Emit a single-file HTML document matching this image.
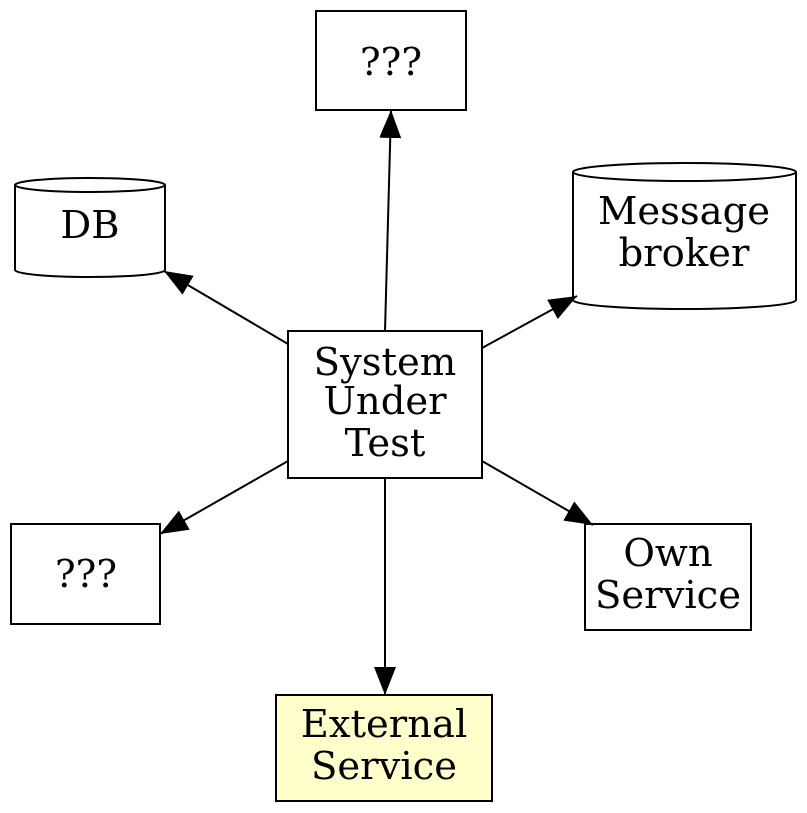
<!DOCTYPE html>
<html><head><meta charset="utf-8"><style>
html,body{margin:0;padding:0;background:#fff;}
svg{display:block;}
text{font-family:"DejaVu Serif","Liberation Serif",serif;font-size:38.5px;fill:#000;text-anchor:middle;}
</style></head><body>
<svg width="807" height="813" viewBox="0 0 807 813" xmlns="http://www.w3.org/2000/svg">
<defs>
<marker id="a" markerUnits="userSpaceOnUse" markerWidth="30" markerHeight="22" refX="28" refY="11" orient="auto">
<polygon points="0,0 28,11 0,22" fill="#000"/>
</marker>
</defs>
<g stroke="#000" stroke-width="2" fill="none">
<rect x="316" y="11" width="150" height="99" fill="#fff"/>
<path d="M15,185 L15,270 A75,7 0 0 0 165,270 L165,185 A75,7 0 0 0 15,185 A75,7 0 0 0 165,185" fill="#fff"/>
<path d="M573,172 L573,300 A111.5,9 0 0 0 796,300 L796,172 A111.5,9 0 0 0 573,172 A111.5,9 0 0 0 796,172" fill="#fff"/>
<rect x="288" y="331" width="194" height="147" fill="#fff"/>
<rect x="11" y="524" width="149" height="100" fill="#fff"/>
<rect x="585" y="524" width="166" height="106" fill="#fff"/>
<rect x="276" y="695" width="216" height="106" fill="#ffffcc"/>
<line x1="385" y1="331" x2="391" y2="110" marker-end="url(#a)"/>
<line x1="288" y1="344" x2="164" y2="271" marker-end="url(#a)"/>
<line x1="482" y1="348" x2="577" y2="296" marker-end="url(#a)"/>
<line x1="288" y1="461" x2="160" y2="534" marker-end="url(#a)"/>
<line x1="482" y1="461" x2="593" y2="525" marker-end="url(#a)"/>
<line x1="385" y1="478" x2="385" y2="695" marker-end="url(#a)"/>
</g>
<text x="391" y="75">???</text>
<text x="90" y="238">DB</text>
<text x="684" y="224">Message</text>
<text x="684" y="266">broker</text>
<text x="385" y="375">System</text>
<text x="385" y="414">Under</text>
<text x="385" y="456">Test</text>
<text x="86" y="587">???</text>
<text x="668" y="566">Own</text>
<text x="668" y="608">Service</text>
<text x="384" y="737">External</text>
<text x="384" y="779">Service</text>
</svg>
</body></html>
